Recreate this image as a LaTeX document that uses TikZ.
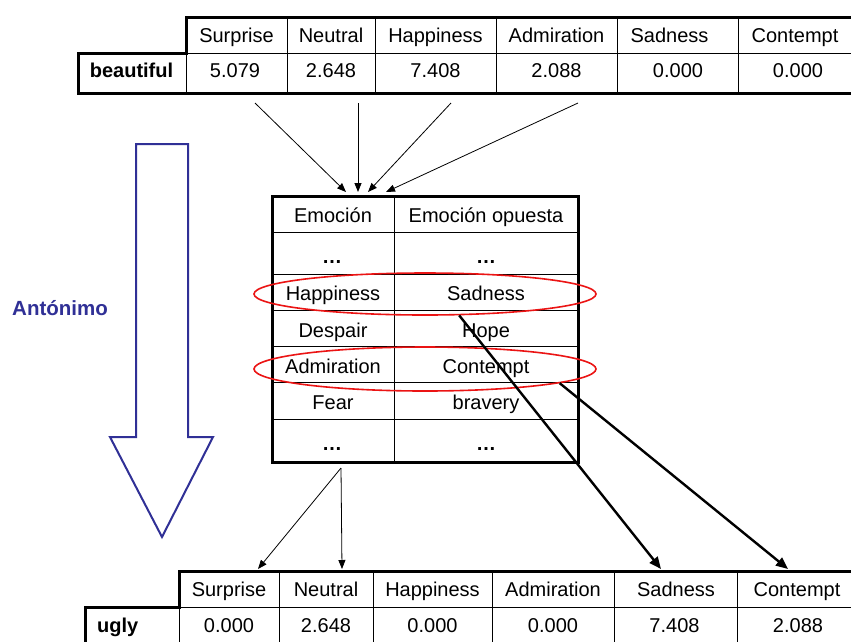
\documentclass[tikz,border=0pt]{standalone}
\usepackage{fontspec}
\setmainfont{Liberation Sans}
\usetikzlibrary{arrows.meta,shapes.geometric}
\definecolor{antblue}{RGB}{48,48,150}
\definecolor{ovalred}{RGB}{235,20,20}
\begin{document}
\begin{tikzpicture}[x=1pt,y=-1pt,
  cell/.style={anchor=base,inner sep=0pt,font=\fontsize{20}{24}\selectfont},
  bcell/.style={cell,font=\fontsize{20}{24}\selectfont\bfseries},
  frame/.style={line width=3pt,line join=miter},
  grid/.style={line width=1pt},
  thinarrow/.style={line width=0.8pt,-{Triangle[length=9pt,width=7pt]}},
  thickarrow/.style={line width=2.4pt,-{Triangle[length=12pt,width=10pt]}},
  oval/.style={ellipse,draw=ovalred,line width=1.6pt,inner sep=0pt},
  anchorpt/.style={inner sep=0pt,minimum size=0pt}]
\useasboundingbox (0,0) rectangle (851,641);
\fill[white] (0,0) rectangle (851,641);

% ---------- word "beautiful": emotion scores ----------
\draw[grid] (186,53) -- (870,53);
\foreach \x in {186,287,375,496,617,738} \draw[grid] (\x,53) -- (\x,93);
\foreach \x in {287,375,496,617,738} \draw[grid] (\x,17) -- (\x,53);
\draw[frame] (870,17) -- (186,17) -- (186,53) -- (78,53) -- (78,93) -- (870,93);

\node[cell] (tSur) at (236.5,42) {Surprise};
\node[cell] (tNeu) at (331,42) {Neutral};
\node[cell] (tHap) at (435.5,42) {Happiness};
\node[cell] (tAdm) at (556.5,42) {Admiration};
\node[cell] (tSad) at (669.5,42) {Sadness};
\node[cell] (tCon) at (795,42) {Contempt};
\node[bcell] (tWord) at (131.5,77.5) {beautiful};
\node[cell] (vSur) at (235,77.5) {5.079};
\node[cell] (vNeu) at (331,77.5) {2.648};
\node[cell] (vHap) at (435.5,77.5) {7.408};
\node[cell] (vAdm) at (556.5,77.5) {2.088};
\node[cell] (vSad) at (678,77.5) {0.000};
\node[cell] (vCon) at (798,77.5) {0.000};

% ---------- opposite-emotion lookup table ----------
\node[anchorpt] (mid) at (425,196) {};
\foreach \y in {232,274,310,346,382,419} \draw[grid] (272,\y) -- (578,\y);
\draw[grid] (394,196) -- (394,462);
\draw[frame] (272,196) rectangle (578,462);

\node[cell] (hE) at (333,222) {Emoción};
\node[cell] (hO) at (486,222) {Emoción opuesta};
\node[cell] (d1a) at (332,263) {\textbf{…}};
\node[cell] (d1b) at (486,263) {\textbf{…}};
\node[cell] (eHap) at (333,300) {Happiness};
\node[cell] (oSad) at (486,300) {Sadness};
\node[cell] (eDes) at (333,337) {Despair};
\node[cell] (oHop) at (486,337) {Hope};
\node[cell] (eAdm) at (333,373) {Admiration};
\node[cell] (oCon) at (486,373) {Contempt};
\node[cell] (eFea) at (333,409) {Fear};
\node[cell] (oBra) at (486,409) {bravery};
\node[cell] (d2a) at (332,450) {\textbf{…}};
\node[cell] (d2b) at (486,450) {\textbf{…}};

% highlighted pairs
\node[oval,minimum width=342pt,minimum height=42pt] (hsel) at (425,294) {};
\node[oval,minimum width=342pt,minimum height=44pt] (asel) at (425,369) {};

% ---------- word "ugly": emotion scores ----------
\draw[grid] (179,607) -- (870,607);
\foreach \x in {179,279,373,492,614,737} \draw[grid] (\x,607) -- (\x,660);
\foreach \x in {279,373,492,614,737} \draw[grid] (\x,571) -- (\x,607);
\draw[frame] (870,571) -- (179,571) -- (179,607) -- (85,607) -- (85,660);

\node[cell] (bSur) at (229,596.5) {Surprise};
\node[cell] (bNeu) at (326,596.5) {Neutral};
\node[cell] (bHap) at (432.5,596.5) {Happiness};
\node[cell] (bAdm) at (553,596.5) {Admiration};
\node[cell] (bSad) at (676,596.5) {Sadness};
\node[cell] (bCon) at (797,596.5) {Contempt};
\node[bcell,anchor=base west] (bWord) at (97,632.5) {ugly};
\node[cell] (uSur) at (229,632.5) {0.000};
\node[cell] (uNeu) at (326,632.5) {2.648};
\node[cell] (uHap) at (432.5,632.5) {0.000};
\node[cell] (uAdm) at (553,632.5) {0.000};
\node[cell] (uSad) at (674.5,632.5) {7.408};
\node[cell] (uCon) at (798,632.5) {2.088};

% ---------- connector end points ----------
\coordinate (s1) at (255,103);
\coordinate (s2) at (358,103);
\coordinate (s3) at (451,103);
\coordinate (s4) at (578,103);
\coordinate (e1) at (346,192);
\coordinate (e2) at (358,192);
\coordinate (e3) at (368,192);
\coordinate (e4) at (386,192);
\coordinate (mOut) at (341,468);
\coordinate (f1) at (258,569);
\coordinate (f2) at (342,569);
\coordinate (f3) at (661,569);
\coordinate (f4) at (788,569);

% scores flow into the lookup table
\draw[thinarrow] (s1) -- (e1);
\draw[thinarrow] (s2) -- (e2);
\draw[thinarrow] (s3) -- (e3);
\draw[thinarrow] (s4) -- (e4);
% unchanged scores
\draw[thinarrow] (mOut) -- (f1);
\draw[thinarrow] (mOut) -- (f2);
% swapped scores
\draw[thickarrow] (hsel.-32) -- (f3);
\draw[thickarrow] (asel.-6) -- (f4);

% ---------- antonym direction ----------
\draw[draw=antblue,line width=2pt,line join=miter]
  (136,144) -- (188,144) -- (188,437) -- (213,437) -- (162,537)
  -- (110,437) -- (136,437) -- cycle;
\node[anchor=base west,inner sep=0pt,text=antblue,
      font=\fontsize{20.5}{24}\selectfont\bfseries] (ant) at (12,315) {Antónimo};
\end{tikzpicture}
\end{document}
